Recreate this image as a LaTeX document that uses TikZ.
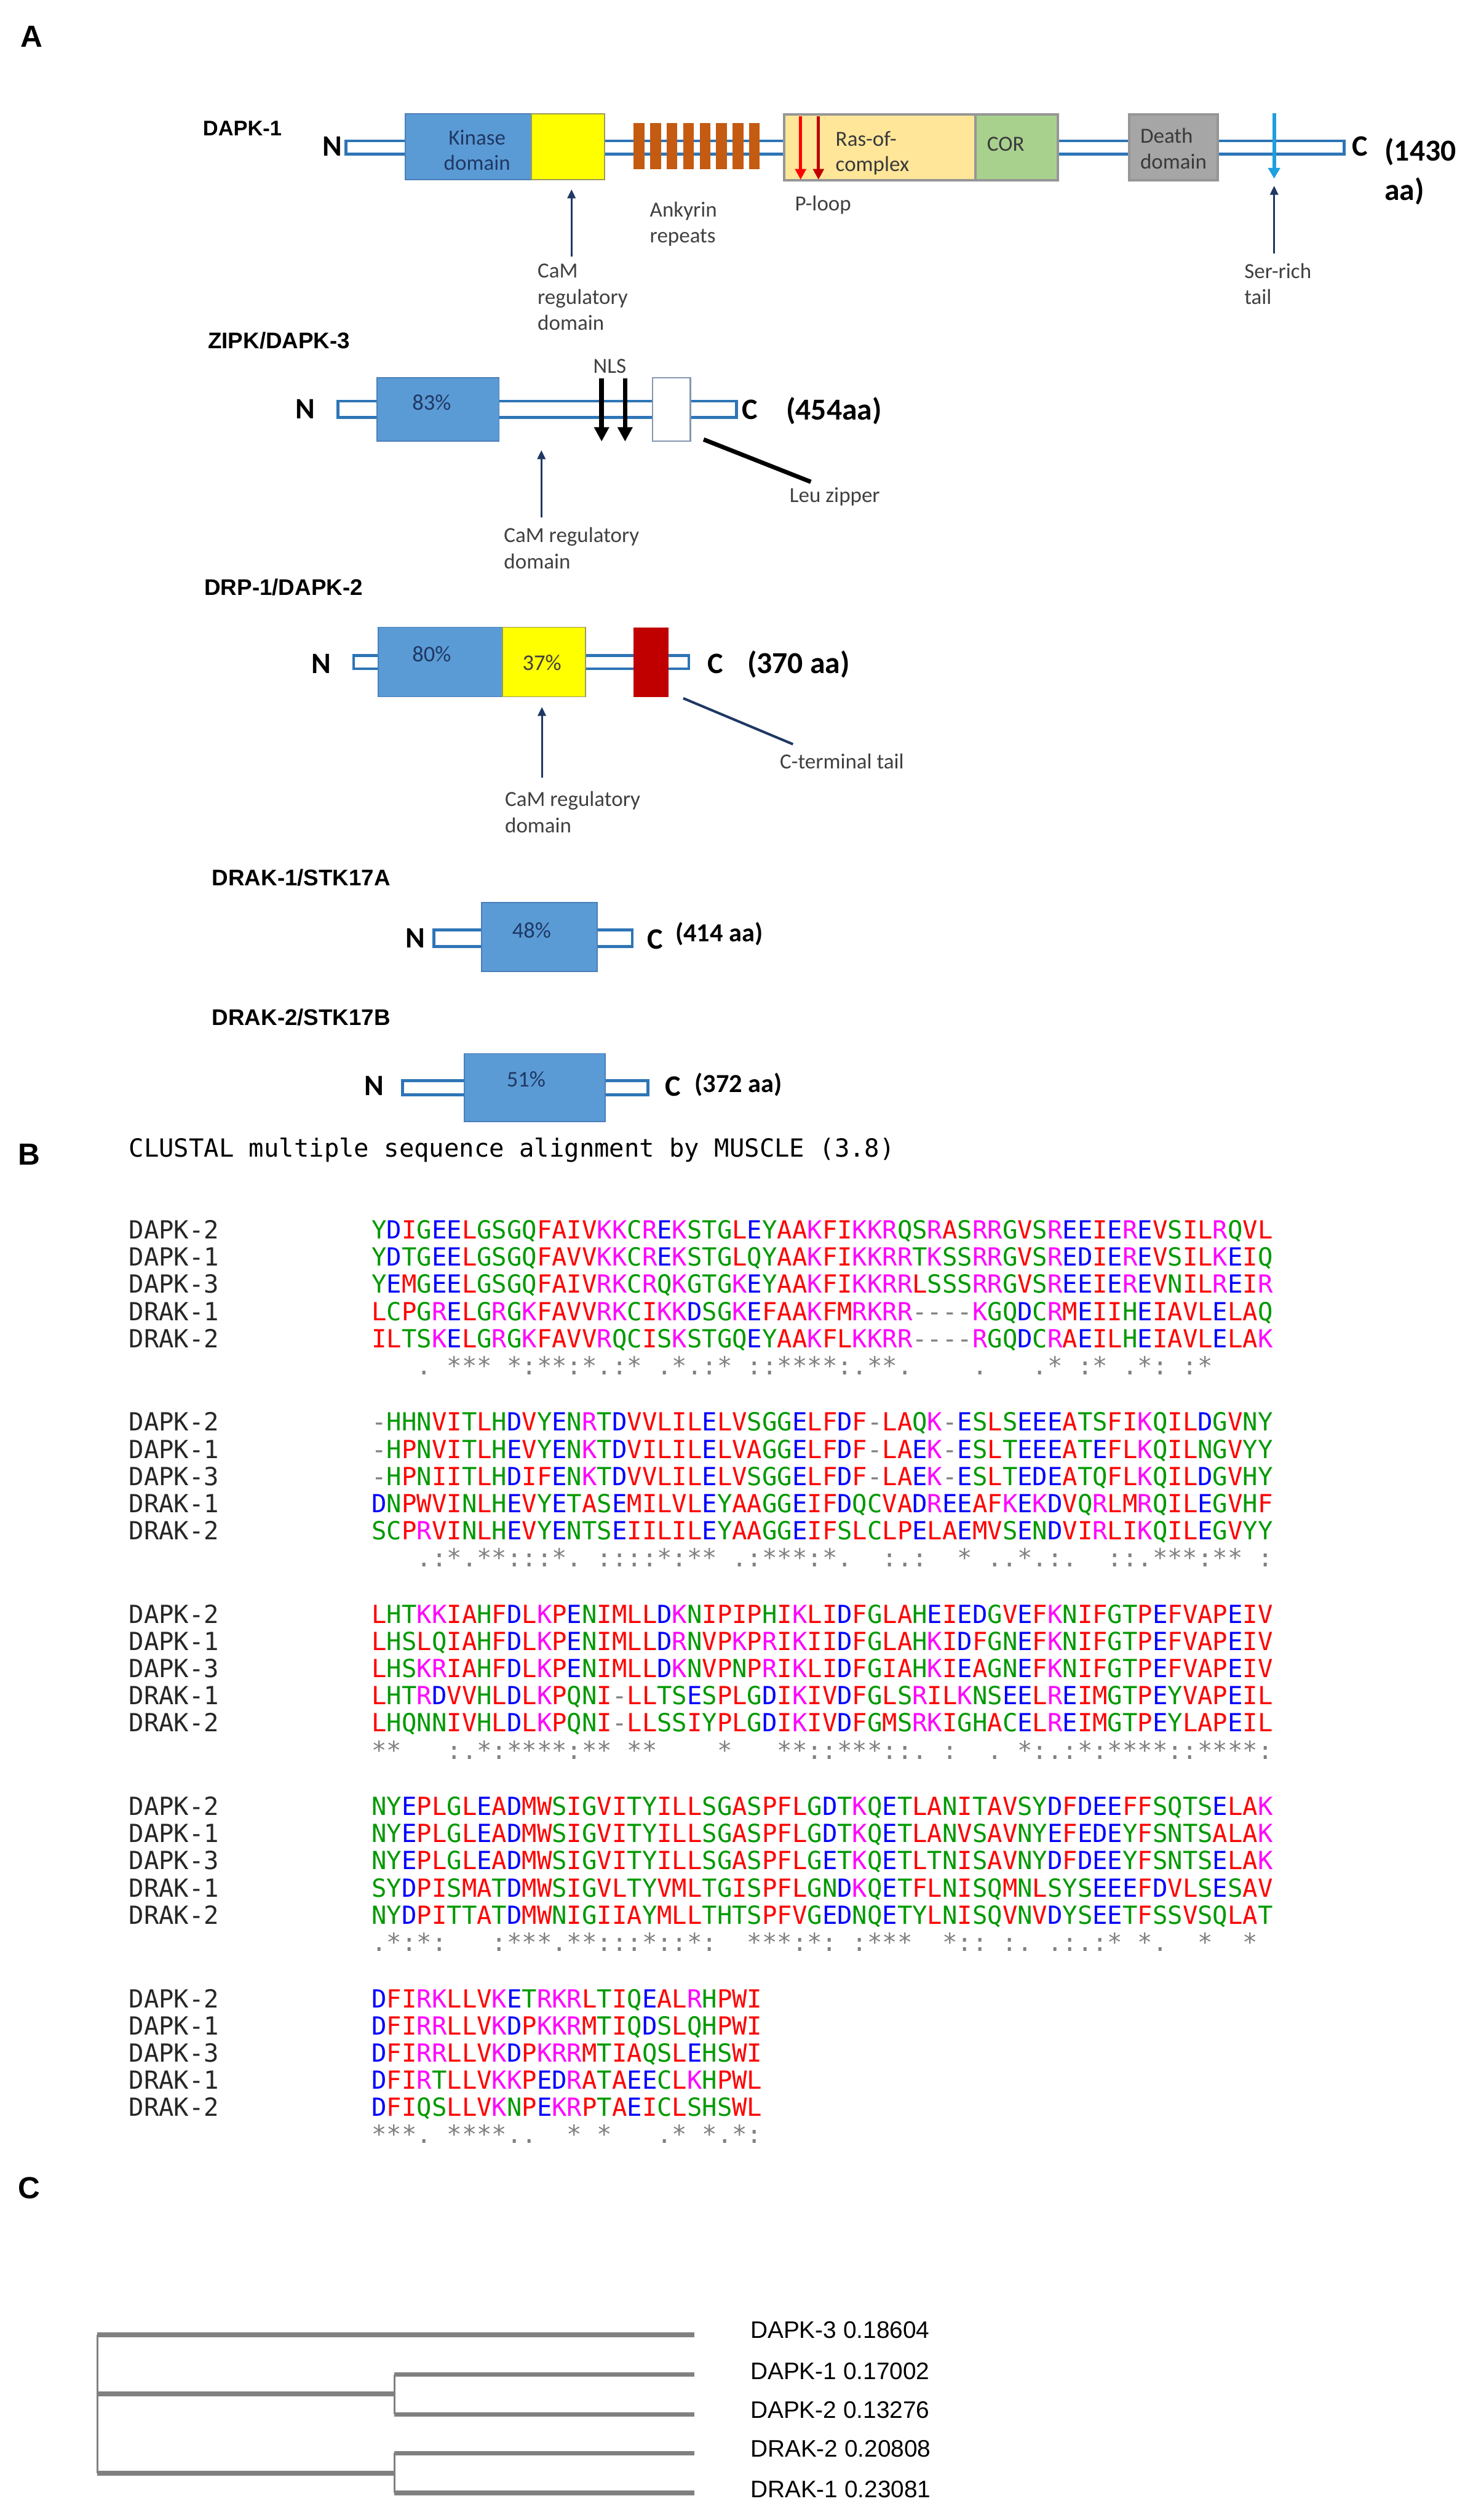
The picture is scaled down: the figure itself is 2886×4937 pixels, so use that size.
\documentclass[tikz,border=0pt]{standalone}
\usepackage{fontspec}
\setmainfont{Carlito}
\newfontfamily\seqfont{DejaVu Sans Mono}
\newfontfamily\arialfont{Liberation Sans}
\usetikzlibrary{arrows.meta}
\definecolor{kinblue}{HTML}{5B9BD5}
\definecolor{kinedge}{HTML}{4A7EBB}
\definecolor{bbblue}{HTML}{2E75B6}
\definecolor{camyel}{HTML}{FFFF00}
\definecolor{camedge}{HTML}{9A9A60}
\definecolor{ankor}{HTML}{C55A11}
\definecolor{rasfill}{HTML}{FFE699}
\definecolor{corfill}{HTML}{A9D18E}
\definecolor{deathfill}{HTML}{A6A6A6}
\definecolor{grayedge}{HTML}{969696}
\definecolor{ctred}{HTML}{C00000}
\definecolor{navy}{HTML}{1F3864}
\definecolor{serblue}{HTML}{1E9FE0}
\definecolor{leuedge}{HTML}{8497B0}
\definecolor{annotc}{HTML}{404040}
\definecolor{domtxt}{HTML}{3A3A3A}
\definecolor{aared}{HTML}{FF0000}
\definecolor{aablue}{HTML}{0000FF}
\definecolor{aamag}{HTML}{FF00FF}
\definecolor{aagreen}{HTML}{009900}
\definecolor{aagap}{HTML}{808080}
\definecolor{conscol}{HTML}{808080}
\definecolor{treegray}{HTML}{808080}
\definecolor{labc}{HTML}{262626}

\newcommand\setaacol[2]{\expandafter\def\csname aac-#1\endcsname{\color{#2}}}
\setaacol{A}{aared}\setaacol{V}{aared}\setaacol{F}{aared}\setaacol{P}{aared}
\setaacol{M}{aared}\setaacol{I}{aared}\setaacol{L}{aared}\setaacol{W}{aared}
\setaacol{D}{aablue}\setaacol{E}{aablue}
\setaacol{R}{aamag}\setaacol{K}{aamag}
\setaacol{S}{aagreen}\setaacol{T}{aagreen}\setaacol{Y}{aagreen}\setaacol{H}{aagreen}
\setaacol{C}{aagreen}\setaacol{N}{aagreen}\setaacol{G}{aagreen}\setaacol{Q}{aagreen}

\def\aaseq#1{\aaseqloop#1\relax}
\def\aaseqloop#1{\ifx\relax#1\else{\ifcsname aac-#1\endcsname\csname aac-#1\endcsname\else\color{aagap}\fi#1}\expandafter\aaseqloop\fi}
\def\aacons#1{\aaconsloop#1\relax}
\def\aaconsloop#1{\ifx\relax#1\else\ifx o#1\hphantom{*}\else#1\fi\expandafter\aaconsloop\fi}

\newcommand\alblock[8]{%
\node[alab] (#1la) at (252,#2) {DAPK-2};
\node[aseq] (#1sa) at (728,#2) {\aaseq{#3}};
\node[alab] (#1lb) at (252,#2+53.2) {DAPK-1};
\node[aseq] (#1sb) at (728,#2+53.2) {\aaseq{#4}};
\node[alab] (#1lc) at (252,#2+106.4) {DAPK-3};
\node[aseq] (#1sc) at (728,#2+106.4) {\aaseq{#5}};
\node[alab] (#1ld) at (252,#2+159.6) {DRAK-1};
\node[aseq] (#1sd) at (728,#2+159.6) {\aaseq{#6}};
\node[alab] (#1le) at (252,#2+212.8) {DRAK-2};
\node[aseq] (#1se) at (728,#2+212.8) {\aaseq{#7}};
\node[acons] (#1c) at (728,#2+266) {\aacons{#8}};
}

\begin{document}
\begin{tikzpicture}[x=0.01cm,y=-0.01cm,
  backbone/.style={draw=bbblue,line width=1.6pt,fill=white},
  dom/.style={rectangle,inner sep=0,outer sep=0},
  term/.style={font=\bfseries\fontsize{16.5}{18}\selectfont,inner sep=0},
  aalen/.style={font=\bfseries\fontsize{17}{22}\selectfont,inner sep=0,anchor=west,align=left},
  aalens/.style={font=\bfseries\fontsize{14.5}{17}\selectfont,inner sep=0,anchor=west},
  protlab/.style={font=\arialfont\bfseries\fontsize{12.6}{15}\selectfont,inner sep=0,anchor=west},
  annot/.style={font=\fontsize{12}{14.5}\selectfont,text=annotc,inner sep=0,align=left},
  domlab/.style={font=\fontsize{12}{14.2}\selectfont,text=domtxt,inner sep=0,align=left},
  pct/.style={font=\fontsize{12.5}{15}\selectfont,text=navy,inner sep=0},
  panel/.style={font=\arialfont\bfseries\fontsize{17}{20}\selectfont,inner sep=0},
  alab/.style={font=\seqfont\fontsize{13.9}{16}\selectfont,text=labc,inner sep=0,anchor=base west},
  aseq/.style={font=\seqfont\fontsize{13.9}{16}\selectfont,inner sep=0,anchor=base west},
  acons/.style={font=\seqfont\fontsize{13.9}{16}\selectfont,text=conscol,inner sep=0,anchor=base west},
  treeh/.style={draw=treegray,line width=2.6pt},
  treev/.style={draw=treegray,line width=1.1pt},
  treelab/.style={font=\arialfont\fontsize{13.3}{16}\selectfont,inner sep=0,anchor=west},
  camarrow/.style={draw=navy,line width=1.1pt,-{Triangle[length=5pt,width=4.5pt]}},
  nlsarrow/.style={draw=black,line width=2.6pt,-{Triangle[length=8pt,width=8pt]}},
  ploop/.style={line width=1.6pt,-{Triangle[length=6pt,width=6pt]}},
]
\path[fill=white] (0,0) rectangle (2886,4937);
\useasboundingbox (0,0) rectangle (2886,4937);

% ---------- panel letters
\node[panel] (pA) at (62,72) {A};
\node[panel] (pB) at (57,2262) {B};
\node[panel] (pC) at (57,4287) {C};

% ---------- DAPK-1
\node[protlab,font=\arialfont\bfseries\fontsize{11.8}{14}\selectfont] (labD1) at (397,251) {DAPK-1};
\draw[backbone] (678,276) rectangle (2634,302);
\node[term] (D1N) at (651,287) {N};
\node[dom,fill=kinblue,draw=kinedge,line width=0.6pt,minimum width=2.47cm,minimum height=1.29cm] (kin1) at (917.5,287.5) {};
\node[domlab,text=navy,align=center] (kin1t) at (935,294) {Kinase\\domain};
\node[dom,fill=camyel,draw=camedge,line width=0.6pt,minimum width=1.44cm,minimum height=1.29cm] (cam1) at (1113,287.5) {};
\foreach \i in {0,...,7}{
  \node[dom,fill=ankor,minimum width=0.21cm,minimum height=0.91cm] (ank\i) at ({1252.5+32.3*\i},286.5) {};
}
\node[dom,fill=rasfill,draw=grayedge,line width=1.3pt,minimum width=3.75cm,minimum height=1.29cm] (ras1) at (1724.5,288.5) {};
\node[dom,fill=corfill,draw=grayedge,line width=1.3pt,minimum width=1.61cm,minimum height=1.29cm] (cor1) at (1992.5,288.5) {};
\node[dom,fill=deathfill,draw=grayedge,line width=1.3pt,minimum width=1.73cm,minimum height=1.29cm] (death1) at (2299.5,288.5) {};
\node[domlab,anchor=west] (rast) at (1637,300) {Ras-of-\\complex};
\node[domlab] (cort) at (1971,282) {COR};
\node[domlab,anchor=west] (deatht) at (2234,291) {Death\\domain};
\coordinate (pl1s) at (1569,228); \coordinate (pl1e) at (1569,352);
\coordinate (pl2s) at (1604,228); \coordinate (pl2e) at (1604,352);
\draw[ploop,draw=aared] (pl1s) -- (pl1e);
\draw[ploop,draw=ctred] (pl2s) -- (pl2e);
\node[annot] (plt) at (1613,402) {P-loop};
\coordinate (sers) at (2497,222); \coordinate (sere) at (2497,350);
\draw[draw=serblue,line width=2pt,-{Triangle[length=6pt,width=6.5pt]}] (sers) -- (sere);
\coordinate (serp1) at (2497,497); \coordinate (serp2) at (2497,364);
\draw[camarrow] (serp1) -- (serp2);
\node[annot,anchor=west] (sert) at (2438,556) {Ser-rich\\tail};
\node[term] (D1C) at (2665,287) {C};
\node[aalen] (D1len) at (2713,336) {(1430\\aa)};
\coordinate (cam1a) at (1120,503); \coordinate (cam1b) at (1120,371);
\draw[camarrow] (cam1a) -- (cam1b);
\node[annot,anchor=west] (cam1t) at (1053,582) {CaM\\regulatory\\domain};
\node[annot,anchor=west] (ankt) at (1273,439) {Ankyrin\\repeats};

% ---------- ZIPK / DAPK-3
\node[protlab] (labZ) at (407,667) {ZIPK/DAPK-3};
\draw[backbone] (662,786) rectangle (1443,818);
\node[term] (ZN) at (598,802) {N};
\node[dom,fill=kinblue,draw=kinedge,line width=0.6pt,minimum width=2.39cm,minimum height=1.24cm] (kin3) at (858.5,802) {};
\node[pct] (kin3t) at (846,789) {83\%};
\node[dom,fill=white,draw=leuedge,line width=0.8pt,minimum width=0.74cm,minimum height=1.24cm] (leu3) at (1316,802) {};
\coordinate (nls1s) at (1179,741); \coordinate (nls1e) at (1179,865);
\coordinate (nls2s) at (1225,741); \coordinate (nls2e) at (1225,865);
\draw[nlsarrow] (nls1s) -- (nls1e);
\draw[nlsarrow] (nls2s) -- (nls2e);
\node[annot] (nlst) at (1195,718) {NLS};
\node[term] (ZC) at (1469,802) {C};
\node[aalen] (Zlen) at (1540,805) {(454aa)};
\coordinate (leua) at (1379,861); \coordinate (leub) at (1589,944);
\draw[line width=2.4pt,black] (leua) -- (leub);
\node[annot] (leut) at (1636,973) {Leu zipper};
\coordinate (cam3a) at (1061,1014); \coordinate (cam3b) at (1061,882);
\draw[camarrow] (cam3a) -- (cam3b);
\node[annot,anchor=west] (cam3t) at (987,1074) {CaM regulatory\\domain};

% ---------- DRP-1 / DAPK-2
\node[protlab] (labR) at (400,1150) {DRP-1/DAPK-2};
\draw[backbone] (693,1284) rectangle (1350,1310);
\node[term] (RN) at (629,1300) {N};
\node[dom,fill=kinblue,draw=kinedge,line width=0.6pt,minimum width=2.44cm,minimum height=1.36cm] (kin2) at (863,1297) {};
\node[pct] (kin2t) at (846,1281) {80\%};
\node[dom,fill=camyel,draw=camedge,line width=0.6pt,minimum width=1.62cm,minimum height=1.36cm] (cam2) at (1066,1297) {};
\node[pct,text=annotc] (cam2t) at (1062,1298) {37\%};
\node[dom,fill=ctred,minimum width=0.69cm,minimum height=1.36cm] (ct2) at (1275.5,1297) {};
\node[term] (RC) at (1402,1300) {C};
\node[aalen] (Rlen) at (1464,1302) {(370 aa)};
\coordinate (cta) at (1339,1368); \coordinate (ctb) at (1554,1458);
\draw[line width=1.4pt,navy] (cta) -- (ctb);
\node[annot] (ctt) at (1650,1491) {C-terminal tail};
\coordinate (cam2a) at (1062,1523); \coordinate (cam2b) at (1062,1385);
\draw[camarrow] (cam2a) -- (cam2b);
\node[annot,anchor=west] (cam2l) at (989,1591) {CaM regulatory\\domain};

% ---------- DRAK-1
\node[protlab] (labK1) at (415,1720) {DRAK-1/STK17A};
\draw[backbone] (850,1822) rectangle (1239,1854);
\node[term] (K1N) at (814,1838) {N};
\node[dom,fill=kinblue,draw=kinedge,line width=0.6pt,minimum width=2.26cm,minimum height=1.35cm] (kin4) at (1057,1835.5) {};
\node[pct] (kin4t) at (1042,1823) {48\%};
\node[term] (K1C) at (1284,1840) {C};
\node[aalens] (K1len) at (1323,1830) {(414 aa)};

% ---------- DRAK-2
\node[protlab] (labK2) at (415,1993) {DRAK-2/STK17B};
\draw[backbone] (789,2117) rectangle (1270,2145);
\node[term] (K2N) at (733,2127) {N};
\node[dom,fill=kinblue,draw=kinedge,line width=0.6pt,minimum width=2.76cm,minimum height=1.33cm] (kin5) at (1048,2130.5) {};
\node[pct] (kin5t) at (1031,2114) {51\%};
\node[term] (K2C) at (1319,2129) {C};
\node[aalens] (K2len) at (1361,2125) {(372 aa)};

% ---------- panel B
\node[alab,text=black] (hdr) at (252,2266) {CLUSTAL multiple sequence alignment by MUSCLE (3.8)};
\alblock{b1}{2427}
{YDIGEELGSGQFAIVKKCREKSTGLEYAAKFIKKRQSRASRRGVSREEIEREVSILRQVL}
{YDTGEELGSGQFAVVKKCREKSTGLQYAAKFIKKRRTKSSRRGVSREDIEREVSILKEIQ}
{YEMGEELGSGQFAIVRKCRQKGTGKEYAAKFIKKRRLSSSRRGVSREEIEREVNILREIR}
{LCPGRELGRGKFAVVRKCIKKDSGKEFAAKFMRKRR----KGQDCRMEIIHEIAVLELAQ}
{ILTSKELGRGKFAVVRQCISKSTGQEYAAKFLKKRR----RGQDCRAEILHEIAVLELAK}
{ooo.o***o*:**:*.:*o.*.:*o::****:.**.oooo.ooo.*o:*o.*:o:*}
\alblock{b2}{2803.5}
{-HHNVITLHDVYENRTDVVLILELVSGGELFDF-LAQK-ESLSEEEATSFIKQILDGVNY}
{-HPNVITLHEVYENKTDVILILELVAGGELFDF-LAEK-ESLTEEEATEFLKQILNGVYY}
{-HPNIITLHDIFENKTDVVLILELVSGGELFDF-LAEK-ESLTEDEATQFLKQILDGVHY}
{DNPWVINLHEVYETASEMILVLEYAAGGEIFDQCVADREEAFKEKDVQRLMRQILEGVHF}
{SCPRVINLHEVYENTSEIILILEYAAGGEIFSLCLPELAEMVSENDVIRLIKQILEGVYY}
{ooo.:*.**:::*.o::::*:**o.:***:*.oo:.:oo*o..*.:.oo::.***:**o:}
\alblock{b3}{3180}
{LHTKKIAHFDLKPENIMLLDKNIPIPHIKLIDFGLAHEIEDGVEFKNIFGTPEFVAPEIV}
{LHSLQIAHFDLKPENIMLLDRNVPKPRIKIIDFGLAHKIDFGNEFKNIFGTPEFVAPEIV}
{LHSKRIAHFDLKPENIMLLDKNVPNPRIKLIDFGIAHKIEAGNEFKNIFGTPEFVAPEIV}
{LHTRDVVHLDLKPQNI-LLTSESPLGDIKIVDFGLSRILKNSEELREIMGTPEYVAPEIL}
{LHQNNIVHLDLKPQNI-LLSSIYPLGDIKIVDFGMSRKIGHACELREIMGTPEYLAPEIL}
{**ooo:.*:****:**o**oooo*ooo**::***::.o:oo.o*:.:*:****::****:}
\alblock{b4}{3556.5}
{NYEPLGLEADMWSIGVITYILLSGASPFLGDTKQETLANITAVSYDFDEEFFSQTSELAK}
{NYEPLGLEADMWSIGVITYILLSGASPFLGDTKQETLANVSAVNYEFEDEYFSNTSALAK}
{NYEPLGLEADMWSIGVITYILLSGASPFLGETKQETLTNISAVNYDFDEEYFSNTSELAK}
{SYDPISMATDMWSIGVLTYVMLTGISPFLGNDKQETFLNISQMNLSYSEEEFDVLSESAV}
{NYDPITTATDMWNIGIIAYMLLTHTSPFVGEDNQETYLNISQVNVDYSEETFSSVSQLAT}
{.*:*:ooo:***.**:::*::*:oo***:*:o:***oo*::o:.o.:.:*o*.oo*oo*o}
\alblock{b5}{3933}
{DFIRKLLVKETRKRLTIQEALRHPWI}
{DFIRRLLVKDPKKRMTIQDSLQHPWI}
{DFIRRLLVKDPKRRMTIAQSLEHSWI}
{DFIRTLLVKKPEDRATAEECLKHPWL}
{DFIQSLLVKNPEKRPTAEICLSHSWL}
{***.o****..oo*o*ooo.*o*.*:}

% ---------- panel C (tree)
\coordinate (t3a) at (191,4574); \coordinate (t3b) at (1361,4574);
\coordinate (tma) at (191,4690); \coordinate (tmb) at (773,4690);
\coordinate (tda) at (191,4845); \coordinate (tdb) at (773,4845);
\coordinate (t1a) at (773,4652); \coordinate (t1b) at (1361,4652);
\coordinate (t2a) at (773,4730); \coordinate (t2b) at (1361,4730);
\coordinate (r2a) at (773,4806); \coordinate (r2b) at (1361,4806);
\coordinate (r1a) at (773,4884); \coordinate (r1b) at (1361,4884);
\draw[treev] (t3a) -- (tda);
\draw[treev] (t1a) -- (t2a);
\draw[treev] (r2a) -- (r1a);
\draw[treeh] (t3a) -- (t3b);
\draw[treeh] (tma) -- (tmb);
\draw[treeh] (tda) -- (tdb);
\draw[treeh] (t1a) -- (t1b);
\draw[treeh] (t2a) -- (t2b);
\draw[treeh] (r2a) -- (r2b);
\draw[treeh] (r1a) -- (r1b);
\node[treelab] (tl3) at (1470,4565) {DAPK-3 0.18604};
\node[treelab] (tl1) at (1470,4645) {DAPK-1 0.17002};
\node[treelab] (tl2) at (1470,4721) {DAPK-2 0.13276};
\node[treelab] (tr2) at (1470,4797) {DRAK-2 0.20808};
\node[treelab] (tr1) at (1470,4877) {DRAK-1 0.23081};
\end{tikzpicture}
\end{document}
